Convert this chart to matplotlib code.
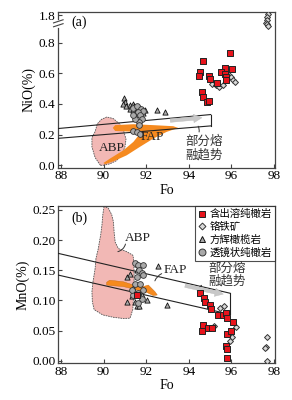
import matplotlib
matplotlib.use("Agg")
import matplotlib.pyplot as plt
import numpy as np
from matplotlib.patches import Polygon
from matplotlib.lines import Line2D

plt.rcParams['font.family'] = ['Liberation Serif', 'Noto Sans CJK SC', 'DejaVu Sans']
plt.rcParams['axes.unicode_minus'] = False

# ---------------- panel (a): NiO vs Fo ----------------
a_dunite_fo = [95.93, 94.67, 94.54, 94.49, 94.96, 95.01, 95.71, 96.04, 95.53, 95.71,
               95.75, 95.76, 95.34, 94.62, 94.68, 94.85, 94.96]
a_dunite_ni = [0.73, 0.68, 0.606, 0.582, 0.582, 0.564, 0.632, 0.626, 0.608, 0.595,
               0.574, 0.556, 0.534, 0.479, 0.443, 0.412, 0.419]
a_chromite_fo = [95.10, 95.26, 95.43, 95.59, 95.90, 95.97, 96.06, 96.17,
                 97.70, 97.68, 97.66, 97.63, 97.68, 97.72]
a_chromite_ni = [0.528, 0.521, 0.512, 0.525, 0.589, 0.574, 0.556, 0.541,
                 1.806, 1.786, 1.768, 1.750, 1.742, 1.731]
a_harz_fo = [90.96, 91.0, 90.93, 91.05, 91.24, 91.37, 91.43, 91.52, 91.24, 91.4,
             91.58, 91.71, 91.79, 91.47, 91.63, 91.86, 91.94, 92.5, 92.9]
a_harz_ni = [0.44, 0.414, 0.397, 0.388, 0.392, 0.403, 0.388, 0.375, 0.366, 0.36,
             0.36, 0.371, 0.353, 0.338, 0.332, 0.338, 0.36, 0.36, 0.35]
a_lens_fo = [91.37, 91.55, 91.74, 91.86, 91.63, 91.71, 91.79, 91.68, 91.67, 91.4,
             91.55, 91.7, 91.47, 91.4]
a_lens_ni = [0.375, 0.388, 0.366, 0.353, 0.349, 0.327, 0.305, 0.283, 0.26, 0.225,
             0.215, 0.205, 0.305, 0.327]
a_abp_fo = [89.85, 89.6, 89.45, 89.45, 89.6, 89.7, 89.9, 90.15, 90.45, 90.75, 90.95,
            91.05, 91.0, 90.85, 90.6, 90.3, 90.0]
a_abp_ni = [0.0, 0.05, 0.12, 0.18, 0.22, 0.27, 0.30, 0.315, 0.305, 0.27, 0.22,
            0.17, 0.12, 0.07, 0.03, 0.01, 0.0]
a_fap_fo = [90.43, 90.54, 91.4, 92.33, 93.27, 93.5, 92.96, 92.33, 91.7, 91.08, 90.46,
            90.07, 89.99, 90.3, 90.93, 91.4, 91.71, 91.47, 90.93, 90.54]
a_fap_ni = [0.244, 0.262, 0.268, 0.262, 0.255, 0.244, 0.218, 0.174, 0.12, 0.065, 0.026,
            0.007, 0.015, 0.044, 0.098, 0.153, 0.207, 0.218, 0.222, 0.224]
a_band_fo = [87.87, 95.03]
a_band_up = [0.24, 0.331]
a_band_lo = [0.176, 0.257]
a_yticks = [0.0, 0.2, 0.4, 0.6, 0.8, 1.8]
a_yticklabels = ['0.0', '0.2', '0.4', '0.6', '0.8', '1.8']

# ---------------- panel (b): MnO vs Fo ----------------
b_dunite_fo = [94.55, 94.72, 94.75, 95.0, 95.04, 95.39, 95.6, 95.77, 95.78, 96.06,
               94.67, 94.6, 94.92, 95.1, 95.78, 95.98, 95.73, 95.79, 95.78, 91.57]
b_dunite_mn = [0.113, 0.104, 0.098, 0.093, 0.086, 0.075, 0.076, 0.0785, 0.071, 0.065,
               0.060, 0.049, 0.054, 0.055, 0.045, 0.049, 0.025, 0.019, 0.004, 0.109]
b_chromite_fo = [95.46, 95.66, 96.2, 96.05, 95.95, 95.2, 97.66, 97.64, 97.56, 97.66]
b_chromite_mn = [0.088, 0.0905, 0.0555, 0.040, 0.033, 0.0575, 0.040, 0.0235, 0.021, 0.0]
b_harz_fo = [91.08, 91.24, 91.55, 91.55, 92.57, 91.08, 91.32, 91.47, 91.55, 91.68,
             92.02, 92.96, 91.4, 91.79]
b_harz_mn = [0.139, 0.143, 0.150, 0.160, 0.157, 0.098, 0.108, 0.098, 0.090, 0.090,
             0.100, 0.093, 0.120, 0.109]
b_lens_fo = [91.47, 91.63, 91.83, 91.68, 91.79, 91.55, 91.87, 91.47, 91.71, 91.87,
             91.4, 91.63, 91.79, 91.63, 91.32]
b_lens_mn = [0.162, 0.159, 0.158, 0.150, 0.145, 0.139, 0.142, 0.128, 0.127, 0.118,
             0.109, 0.112, 0.103, 0.095, 0.117]
b_abp_fo = [90.02, 89.96, 89.92, 89.86, 89.8, 89.75, 89.64, 89.6, 89.5, 89.45, 89.47,
            89.55, 89.95, 90.46, 90.92, 91.24, 91.37, 91.4, 91.43, 91.43, 91.4, 91.37,
            91.08, 90.69, 90.54, 90.49, 90.46, 90.38, 90.22]
b_abp_mn = [0.256, 0.242, 0.225, 0.2085, 0.197, 0.186, 0.17, 0.153, 0.131, 0.1145, 0.098,
            0.085, 0.076, 0.072, 0.070, 0.0705, 0.085, 0.1035, 0.12, 0.148, 0.17, 0.175,
            0.181, 0.186, 0.197, 0.214, 0.23, 0.242, 0.253]
b_fap_fo = [90.14, 90.28, 90.92, 91.4, 91.87, 92.1, 92.41, 92.52, 92.33, 92.02, 91.7,
            91.4, 90.92, 90.38, 90.14]
b_fap_mn = [0.130, 0.1335, 0.131, 0.1255, 0.123, 0.1255, 0.1145, 0.109, 0.108, 0.1135,
            0.1156, 0.119, 0.123, 0.1245, 0.1256]
b_band_fo = [87.87, 95.93]
b_band_up = [0.178, 0.112]
b_band_lo = [0.142, 0.077]
b_yticks = [0.0, 0.05, 0.10, 0.15, 0.20, 0.25]

xticks = [88, 90, 92, 94, 96, 98]
legend_labels = ['含出溶纯橄岩', '铬铁矿', '方辉橄榄岩', '透镜状纯橄岩']
trend_text = '部分熔\n融趋势'

c_red = '#e8141c'
c_pink = '#f2b8b5'
c_orange = '#f58a1f'
c_grey = '#a9a9a9'
c_dia = '#d9d9d9'
c_spine = '#444444'


# broken y axis for NiO: compress 0.86-1.70
def fwd(y):
    y = np.asarray(y, dtype=float)
    return np.where(y <= 0.86, y,
                    np.where(y >= 1.70, y - 0.82, 0.86 + (y - 0.86) * (0.02 / 0.84)))


def inv(t):
    t = np.asarray(t, dtype=float)
    return np.where(t <= 0.86, t,
                    np.where(t >= 0.88, t + 0.82, 0.86 + (t - 0.86) * (0.84 / 0.02)))


def style_axes(ax):
    for s in ax.spines.values():
        s.set_color(c_spine)
        s.set_linewidth(0.9)
    ax.tick_params(direction='in', length=3, width=0.8, color=c_spine,
                   labelsize=9.5, pad=2)
    ax.set_xlim(87.87, 98.05)
    ax.set_xticks(xticks)
    ax.set_xlabel('Fo', fontsize=10, labelpad=1)


def draw_points(ax, fo_d, v_d, fo_c, v_c, fo_h, v_h, fo_l, v_l):
    ax.scatter(fo_h, v_h, marker='^', s=14, c=c_grey, edgecolors='#111111', linewidths=0.6, zorder=5)
    ax.scatter(fo_l, v_l, marker='o', s=17, c=c_grey, edgecolors='#333333', linewidths=0.6, zorder=6)
    ax.scatter(fo_c, v_c, marker='D', s=9, c=c_dia, edgecolors='#333333', linewidths=0.7, zorder=6)
    ax.scatter(fo_d, v_d, marker='s', s=20, c=c_red, edgecolors='#222222', linewidths=0.7, zorder=7)


fig = plt.figure(figsize=(2.92, 4.0), dpi=100)

# ---------- (a) ----------
ax1 = fig.add_axes([0.1997, 0.581, 0.742, 0.389])
ax1.set_yscale('function', functions=(fwd, inv))
ax1.set_ylim(-0.015, 1.82)
style_axes(ax1)
ax1.set_yticks(a_yticks)
ax1.set_yticklabels(a_yticklabels)
ax1.yaxis.set_minor_locator(matplotlib.ticker.NullLocator())
ax1.set_ylabel('NiO(%)', fontsize=10, labelpad=2)

ax1.add_patch(Polygon(np.column_stack([a_abp_fo, a_abp_ni]), closed=True, fc=c_pink,
                      ec='#555555', ls=(0, (2, 1)), lw=0.6, zorder=1))
ax1.add_patch(Polygon(np.column_stack([a_fap_fo, a_fap_ni]), closed=True, fc=c_orange,
                      ec='none', zorder=2))
ax1.plot(a_band_fo, a_band_up, color='#222222', lw=0.8, zorder=3)
ax1.plot(a_band_fo, a_band_lo, color='#222222', lw=0.8, zorder=3)
ax1.plot([a_band_fo[1], a_band_fo[1]], [a_band_lo[1], a_band_up[1]], color='#222222', lw=0.8, zorder=3)
ax1.annotate('', xy=(94.75, 0.312), xytext=(93.0, 0.29),
             arrowprops=dict(arrowstyle='simple,head_length=0.6,head_width=0.6,tail_width=0.25',
                             fc='#c8c8c8', ec='#bbbbbb', lw=0.3), zorder=4)
draw_points(ax1, a_dunite_fo, a_dunite_ni, a_chromite_fo, a_chromite_ni,
            a_harz_fo, a_harz_ni, a_lens_fo, a_lens_ni)
ax1.text(90.38, 0.115, 'ABP', fontsize=9.5, ha='center', va='center', color='#222222', zorder=8)
ax1.text(92.3, 0.185, 'FAP', fontsize=9.5, ha='center', va='center', color='#222222', zorder=8)
ax1.text(94.72, 0.11, trend_text, fontsize=9, ha='center', va='center', color='#333333',
         linespacing=1.1, zorder=8)
ax1.annotate('', xy=(94.37, 0.27), xytext=(94.45, 0.2),
             arrowprops=dict(arrowstyle='-', color='#333333', lw=0.7,
                             connectionstyle='arc3,rad=0.3'))
ax1.text(0.062, 0.935, '(a)', transform=ax1.transAxes, fontsize=10, ha='left', va='center')
# axis break mark
for dy in (0.0, 0.025):
    ax1.plot([-0.022, 0.022], [0.905 + dy, 0.925 + dy], transform=ax1.transAxes,
             color=c_spine, lw=0.8, clip_on=False, zorder=10)
ax1.plot([0, 0], [0.91, 0.945], transform=ax1.transAxes, color='white', lw=2,
         clip_on=False, zorder=9)

# ---------- (b) ----------
ax2 = fig.add_axes([0.1997, 0.0925, 0.742, 0.3925])
ax2.set_ylim(-0.0038, 0.2566)
style_axes(ax2)
ax2.set_yticks(b_yticks)
ax2.set_yticklabels(['%.2f' % v for v in b_yticks])
ax2.set_ylabel('MnO(%)', fontsize=10, labelpad=2)

ax2.add_patch(Polygon(np.column_stack([b_abp_fo, b_abp_mn]), closed=True, fc=c_pink,
                      ec='#555555', ls=(0, (2, 1)), lw=0.6, zorder=1))
ax2.add_patch(Polygon(np.column_stack([b_fap_fo, b_fap_mn]), closed=True, fc=c_orange,
                      ec='#c86a10', lw=0.3, zorder=2))
ax2.plot(b_band_fo, b_band_up, color='#222222', lw=0.8, zorder=3)
ax2.plot(b_band_fo, b_band_lo, color='#222222', lw=0.8, zorder=3)
ax2.plot([b_band_fo[1], b_band_fo[1]], [b_band_lo[1], b_band_up[1]], color='#222222', lw=0.8, zorder=3)
ax2.annotate('', xy=(95.75, 0.1095), xytext=(93.7, 0.1255),
             arrowprops=dict(arrowstyle='simple,head_length=0.6,head_width=0.6,tail_width=0.25',
                             fc='#c8c8c8', ec='#bbbbbb', lw=0.3), zorder=4)
draw_points(ax2, b_dunite_fo, b_dunite_mn, b_chromite_fo, b_chromite_mn,
            b_harz_fo, b_harz_mn, b_lens_fo, b_lens_mn)
ax2.text(91.6, 0.203, 'ABP', fontsize=9.5, ha='center', va='center', color='#222222')
ax2.annotate('', xy=(90.54, 0.18), xytext=(91.05, 0.198),
             arrowprops=dict(arrowstyle='-', color='#333333', lw=0.7,
                             connectionstyle='arc3,rad=-0.4'))
ax2.text(93.35, 0.150, 'FAP', fontsize=9.5, ha='center', va='center', color='#222222')
ax2.annotate('', xy=(92.37, 0.128), xytext=(92.85, 0.146),
             arrowprops=dict(arrowstyle='-', color='#333333', lw=0.7,
                             connectionstyle='arc3,rad=0.3'))
ax2.text(95.82, 0.142, trend_text, fontsize=9, ha='center', va='center', color='#333333',
         linespacing=1.1)
ax2.annotate('', xy=(94.37, 0.112), xytext=(94.72, 0.127),
             arrowprops=dict(arrowstyle='-', color='#333333', lw=0.7,
                             connectionstyle='arc3,rad=0.3'))
ax2.text(0.062, 0.92, '(b)', transform=ax2.transAxes, fontsize=10, ha='left', va='center')

handles = [
    Line2D([], [], ls='none', marker='s', ms=5, mfc=c_red, mec='#222222', mew=0.7),
    Line2D([], [], ls='none', marker='D', ms=3.5, mfc=c_dia, mec='#333333', mew=0.7),
    Line2D([], [], ls='none', marker='^', ms=5, mfc=c_grey, mec='#111111', mew=0.7),
    Line2D([], [], ls='none', marker='o', ms=5, mfc=c_grey, mec='#333333', mew=0.7),
]
leg = ax2.legend(handles, legend_labels, loc='upper right',
                 frameon=True, fancybox=False, borderaxespad=0, handlelength=0.8,
                 handletextpad=0.3, labelspacing=0.25, borderpad=0.3,
                 prop={'family': ['Noto Sans CJK SC'], 'size': 7.5})
leg.get_frame().set_edgecolor('#222222')
leg.get_frame().set_linewidth(0.8)

fig.savefig('out.png', dpi=100)
